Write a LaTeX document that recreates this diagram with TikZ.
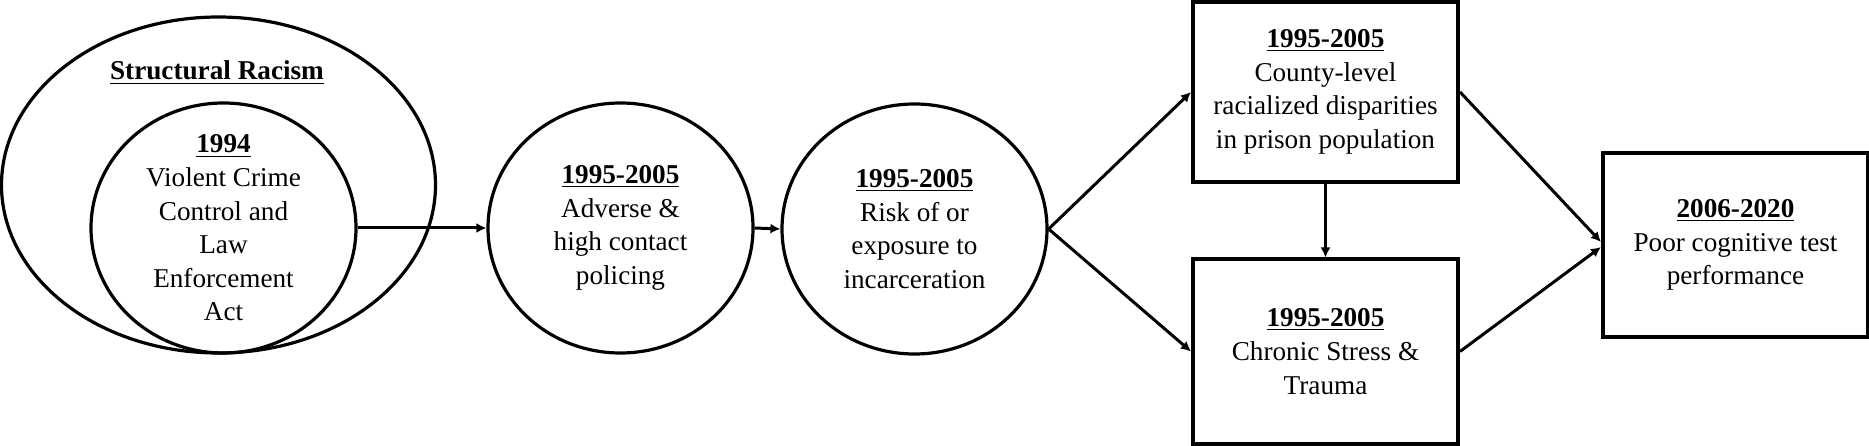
\documentclass[tikz,border=0pt]{standalone}
\usepackage{fontspec}
\setmainfont{Liberation Serif}
\usepackage{tikz}
\usetikzlibrary{shapes,arrows.meta,positioning}

\begin{document}
\begin{tikzpicture}[
			x=0.5pt, y=0.5pt,
			every node/.style={font=\fontsize{13.6}{16.8}\selectfont},
			>={Latex[length=5pt,width=5pt]},
			stage/.style={ellipse,draw,line width=1.6pt,minimum width=132.5pt,minimum height=125pt,inner xsep=0pt,inner ysep=-8pt,align=center},
			period/.style={rectangle,draw,line width=2pt,minimum width=132.5pt,minimum height=92pt,inner sep=0pt,align=center},
			link/.style={->,line width=1.5pt}
			]

			\useasboundingbox (0,0) rectangle (1869,445);

			\node[ellipse,draw,line width=1.6pt,minimum width=217pt,minimum height=168pt] (racism) at (218.5,260) {};
			\node[anchor=base] (racismlabel) at (217,365) {\textbf{\underline{Structural Racism}}};

			\node[stage] (act) at (223.5,217) {\textbf{\underline{1994}}\\Violent Crime\\Control and\\Law\\Enforcement\\Act};
			\node[stage] (policing) at (620.5,217) {\textbf{\underline{1995-2005}}\\Adverse \&\\high contact\\policing};
			\node[stage] (prison) at (914.5,216) {\textbf{\underline{1995-2005}}\\Risk of or\\exposure to\\incarceration};

			\node[period,minimum height=90pt] (disparity) at (1325.5,353) {\textbf{\underline{1995-2005}}\\County-level\\racialized disparities\\in prison population};
			\node[period] (stress) at (1325.5,93.5) {\textbf{\underline{1995-2005}}\\Chronic Stress \&\\Trauma};
			\node[period] (cognition) at (1735.5,200) {\textbf{\underline{2006-2020}}\\Poor cognitive test\\performance};

			\draw[link] (act.east) -- (policing.west);
			\draw[link] (policing.east) -- (prison.west);
			\draw[link] (prison.east) -- (disparity.west);
			\draw[link] (prison.east) -- (stress.west);
			\draw[link] (disparity.south) -- (stress.north);
			\draw[link] (disparity.east) -- ([yshift=1.5pt]cognition.west);
			\draw[link] (stress.east) -- ([yshift=-1pt]cognition.west);

\end{tikzpicture}
\end{document}
